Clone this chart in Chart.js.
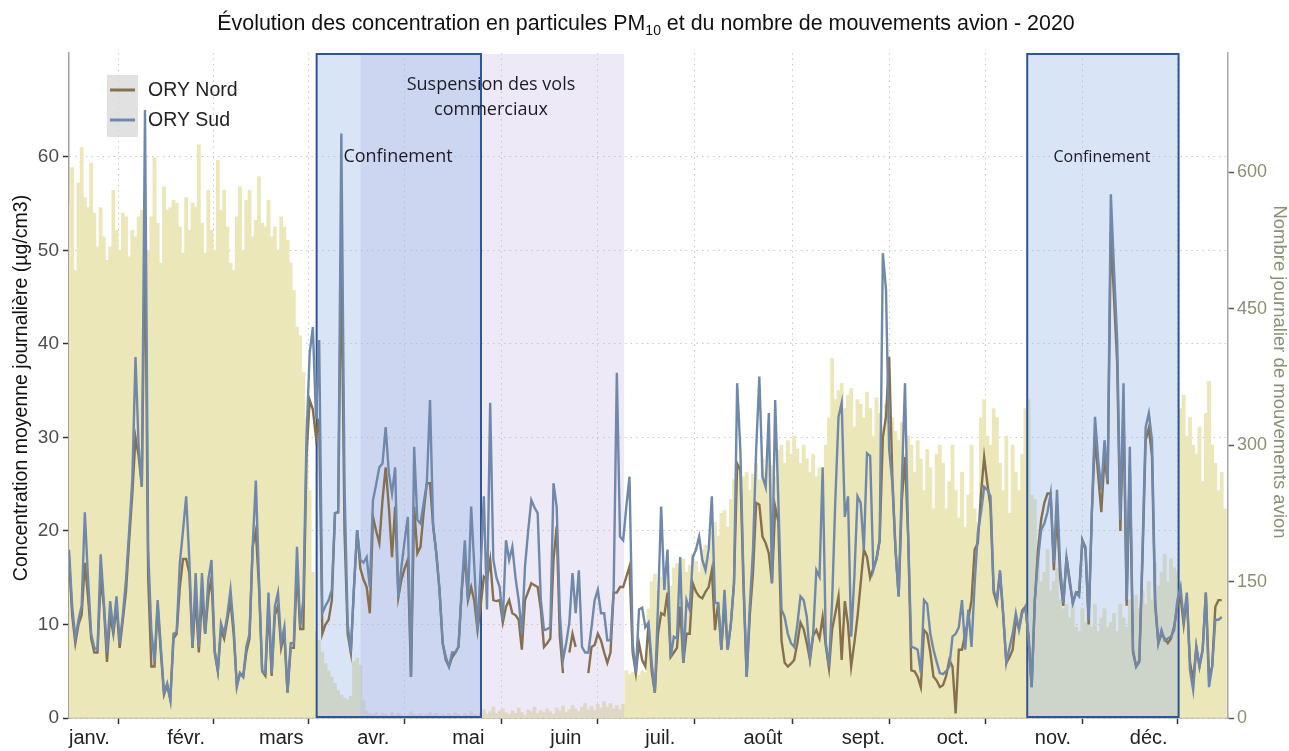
<!DOCTYPE html>
<html>
<head>
<meta charset="utf-8">
<script src="https://cdn.jsdelivr.net/npm/chart.js@4.4.0/dist/chart.umd.min.js"></script>
<style>
  html, body { margin: 0; padding: 0; background: #ffffff; }
</style>
</head>
<body>
<canvas id="pmChart" width="1289" height="751"></canvas>
<script>
// month ticks (day index of the 1st of each month, 2020)
const monthStarts = [0, 31, 60, 91, 121, 152, 182, 213, 244, 274, 305, 335];
const monthNames = ['janv.', 'févr.', 'mars', 'avr.', 'mai', 'juin', 'juil.', 'août', 'sept.', 'oct.', 'nov.', 'déc.'];

const leftTicks = [0, 10, 20, 30, 40, 50, 60];
const rightTicks = [0, 150, 300, 450, 600];

// periods, in day index
const confinements = [[78.2, 130.1], [302.6, 350.4]];
const suspension = [92.1, 175.3];

// daily PM10 (µg/cm3) - ORY Sud
const orySud = [
  18, 12, 8.5, 10.5, 12, 22, 15, 9, 7.5, 7.3,
  17.5, 12.5, 7, 12.5, 9.4, 13, 8, 11, 14.8, 20,
  25.5, 38.6, 29, 24.7, 65, 18, 9.4, 6, 12.6, 7.6,
  2.7, 3.7, 1.9, 9, 9.2, 16.6, 20, 23.7, 16.9, 7.6,
  15.5, 7.6, 15.5, 9, 14.8, 16.9, 7.3, 5.1, 10.1, 9,
  11, 13.7, 9.7, 3.3, 4.8, 4.4, 7.6, 9, 18.3, 25.4,
  14.8, 5, 4.8, 13.4, 4.8, 11.9, 13.4, 8, 9.7, 2.7,
  8, 8, 18.3, 9.7, 12.6, 30, 39, 41.8, 32, 40.4,
  11.2, 12, 12.6, 13.7, 21.9, 22, 62.5, 25, 10, 7,
  14, 20.1, 16.9, 16.6, 17.2, 14, 23.3, 25, 26.8, 27.2,
  31.1, 26.2, 24, 26.8, 12.9, 16.2, 19, 21.5, 4.4, 29,
  21.2, 20.8, 23, 25.1, 34, 20.5, 17.6, 13.7, 8, 6.5,
  5.5, 7, 7, 7.6, 13.7, 19, 12.6, 22.6, 16.2, 9.4,
  16, 23.7, 11.6, 33.7, 16.9, 15, 14, 10.5, 19, 16.9,
  18.3, 15, 12.6, 9, 16.2, 20, 23.3, 22.5, 21.9, 12.6,
  9.4, 9.5, 9.7, 25.1, 22.6, 11.2, 6.2, 8, 10.2, 15.5,
  11.2, 15.8, 7.6, 7, 7, 9.7, 12.6, 13.7, 11.2, 11.2,
  8.3, 8.3, 13.7, 36.9, 19.4, 19, 22.6, 25.8, 8, 4.8,
  11.6, 11.8, 9.7, 10.2, 6, 2.7, 12, 22.6, 13.7, 18,
  6.5, 8.7, 8.5, 17.2, 5.9, 12.6, 11.6, 17.2, 18, 19.4,
  16.9, 15.8, 18, 23.7, 12.3, 12.3, 7.3, 13.7, 7.3, 10,
  14.4, 35.8, 28.7, 15, 4.4, 12, 18, 28.7, 36.5, 25.8,
  24.7, 32.6, 14.4, 34, 23.3, 11.6, 10.8, 9, 8, 7.6,
  10, 13, 12.6, 10.8, 6.5, 9, 15.8, 15.1, 26.8, 8,
  5.5, 12.6, 23.3, 32.2, 33.7, 21.5, 23.7, 8.7, 15, 23.7,
  23, 18, 28.3, 28, 15.8, 17, 19, 49.7, 45.8, 28.7,
  25.1, 18, 13, 25.1, 35.8, 19.4, 7.6, 7.5, 7.3, 4.8,
  12.6, 12.2, 9, 7.3, 6, 4.8, 4.7, 5, 5.5, 8.7,
  9, 9.7, 12.6, 7.3, 11.6, 7.6, 14.4, 19.8, 22, 24.7,
  24.4, 23.7, 13.7, 12.6, 15.8, 11.2, 5.9, 7.5, 9, 11.2,
  9.4, 11.2, 11.9, 8.7, 3.3, 12.6, 17, 20.1, 20.8, 22,
  24, 16.6, 24.4, 16.2, 12.3, 17.2, 14.8, 12.3, 13.4, 13,
  19, 18.3, 10.5, 21.9, 32.2, 27.6, 24.4, 29.7, 25.4, 56,
  48, 40.4, 21.2, 35.8, 12.6, 29, 7.3, 5.5, 6.2, 18,
  31.1, 32.6, 29.7, 12.6, 8, 9.4, 8.3, 8.5, 8.7, 9.4,
  12.6, 14, 10.5, 13.4, 5.1, 3, 7.6, 5.5, 7.3, 13.4,
  3.3, 5.5, 10.5, 10.5, 10.8, null
];

// daily PM10 (µg/cm3) - ORY Nord
const oryNord = [
  17, 11, 8, 10, 11, 16.6, 13, 8.5, 7, 7,
  15, 12, 6, 11, 9, 12, 7.5, 10.5, 13.5, 19,
  24, 30, 28, 24.7, 53, 15, 5.5, 5.5, 12, 7,
  2.5, 3.5, 2, 8.5, 9, 14, 17, 17, 15.5, 7.5,
  13, 7, 13, 9, 13, 15, 7, 5, 9.5, 8.5,
  10.5, 12.5, 9, 3.5, 4.8, 4.4, 7, 8.5, 18.3, 20,
  14, 5, 4.5, 12, 4.5, 11, 12, 7.5, 9, 2.7,
  7.5, 7.5, 16, 9.5, 9.5, 28, 34, 33, 30, 32,
  9, 10, 10.5, 12.6, 21.9, 22, 50, 20, 9, 7,
  14, 20.1, 16, 14.8, 14, 11.2, 21.5, 20, 18.7, 23.3,
  26.8, 22.6, 17.2, 22.6, 12.9, 14.8, 16, 16.9, 4.4, 22.6,
  17.6, 18.3, 22, 25.1, 25.1, 20.5, 17.6, 13.7, 8, 6.2,
  5.5, 6.5, 7, 7.6, 13.5, 17.6, 12.6, 14, 12.5, 9.4,
  12, 15.1, 14.8, 16.9, 12.6, 12.5, 12.6, 10.2, 11.9, 12.6,
  11.2, 11, 10.5, 7.3, 12.6, 13.5, 14.4, 14.2, 14, 11.6,
  7.6, 8, 8.5, 16.9, 20.5, 8.7, 4.8, null, 7, 9,
  7.6, null, null, null, 4.8, 7.6, 7.8, 9, 8.3, 7,
  5.9, 7, 13.4, 13.4, 14, 14, 15.1, 16.2, 7, 4.8,
  8, 6.2, 5.5, 10, 5, 2.7, 9, 11.2, 11, 13.4,
  6.5, 7, 7.5, 11.9, 5.9, 9, 9, 14.4, 13.5, 13,
  12.8, 13.5, 14, 15.8, 9.4, 12.3, 7.3, 12.3, 7.3, 10,
  14.4, 27.2, 26.5, 14, 4.4, 11, 15.5, 23, 22.8, 19.4,
  18.7, 17.6, 14.4, 22.6, 21, 8.3, 5.9, 5.5, 5.8, 6.2,
  8, 10.2, 9.5, 8, 6.2, 8.8, 9.4, 8.5, 10.8, 7.7,
  5.3, 9.5, 11.2, 13, 6.2, 12.5, 10, 5.5, 8, 10.8,
  14.4, 18, 17.2, 15, 16, 17, 19, 30, 32.2, 38.6,
  25.8, 18, 13, 23.3, 27.9, 19.4, 5.1, 5, 4.4, 3.3,
  9.4, 9, 7, 4.4, 4, 3.3, 3.5, 4.5, 6.2, 5.5,
  0.5, 7.3, 7.3, 9, 10.5, 12.6, 18, 18.7, 24, 27.9,
  25.1, 22.6, 13.4, 12.3, 15.5, 11, 5.9, 6.5, 7.3, 10.5,
  9.6, 11.5, 11.9, 8.7, 3.3, 12.6, 18, 21.2, 23, 24,
  24, 15.8, 22, 15, 12, 17.2, 14.5, 12.3, 13.4, 13.5,
  19, 18, 10, 21.9, 30, 26, 22, 28, 25, 52,
  45, 38, 20, 33, 12, 27, 7, 5.5, 6, 17,
  29.7, 31, 28, 12, 8, 9, 8.5, 8, 8.5, 9.8,
  12, 13, 10, 13, 6, 4, 7.6, 5.5, 7.3, 13.4,
  4.5, 5.5, 11.9, 12.6, 12.6, null
];

// daily aircraft movements
const mouvements = [
  566, 605, 492, 588, 627, 572, 561, 610, 555, 518,
  561, 529, 503, 518, 580, 536, 514, 555, 551, 507,
  536, 529, 551, 558, 529, 514, 551, 616, 544, 500,
  584, 558, 561, 569, 566, 540, 511, 572, 536, 566,
  562, 630, 544, 511, 580, 536, 514, 613, 558, 580,
  540, 500, 492, 551, 584, 514, 569, 580, 529, 547,
  595, 544, 540, 569, 529, 540, 514, 551, 540, 525,
  500, 470, 430, 420, 380, 330, 250, 160, 95, 85,
  72, 60, 52, 45, 38, 30, 25, 22, 20, 24,
  62, 66, 58, 20, 8, 5, 4, 6, 3, 5,
  4, 2, 6, 3, 5, 4, 2, 3, 7, 4,
  3, 5, 2, 4, 6, 3, 5, 2, 4, 3,
  5, 3, 6, 4, 2, 5, 3, 7, 4, 3,
  6, 9, 4, 7, 12, 5, 8, 10, 6, 4,
  8, 5, 11, 6, 3, 9, 7, 12, 5, 8,
  6, 10, 7, 4, 11, 8, 13, 6, 9, 14,
  10, 7, 12, 16, 9, 13, 8, 15, 11, 18,
  12, 16, 10, 14, 9, 15, 52, 48, 50, 55,
  47, 52, 50, 120, 150, 158, 140, 155, 162, 150,
  145, 165, 170, 155, 175, 160, 168, 180, 172, 160,
  185, 190, 178, 205, 215, 200, 225, 228, 210, 240,
  262, 275, 258, 265, 270, 250, 268, 280, 262, 285,
  270, 290, 278, 265, 295, 300, 280, 305, 290, 310,
  296, 280, 300, 285, 270, 290, 265, 275, 260, 300,
  330, 395, 350, 360, 368, 340, 355, 362, 320, 350,
  345, 330, 358, 340, 310, 352, 335, 320, 345, 300,
  330, 315, 305, 325, 290, 310, 300, 270, 305, 285,
  250, 295, 275, 230, 290, 300, 280, 230, 260, 300,
  250, 220, 270, 210, 245, 300, 230, 215, 330, 350,
  310, 300, 340, 330, 280, 250, 310, 225, 300, 270,
  250, 290, 340, 350, 245, 240, 180, 150, 160, 185,
  140, 150, 165, 130, 120, 125, 110, 130, 100, 95,
  120, 105, 115, 100, 125, 95, 110, 120, 100, 105,
  115, 95, 125, 110, 100, 130, 115, 135, 120, 140,
  125, 150, 130, 170, 145, 160, 180, 150, 175, 165,
  160, 340, 355, 310, 330, 300, 290, 320, 260, 335,
  370, 300, 280, 250, 270, 230
];

const dayIndex = mouvements.map((v, i) => i);

const nordColor = '#86704f';
const sudColor = '#7089ab';
const sansFont = '"Liberation Sans", Arial, sans-serif';

// boxes go between the bars and the lines
const periodsPlugin = {
  id: 'periods',
  afterDatasetDraw(chart, args) {
    if (args.index !== 2) return;
    const {ctx, chartArea, scales: {x}} = chart;
    const top = chartArea.top + 1, bottom = chartArea.bottom - 1;
    ctx.save();
    ctx.fillStyle = 'rgba(195, 182, 228, 0.3)';
    ctx.fillRect(x.getPixelForValue(suspension[0]), top, x.getPixelForValue(suspension[1]) - x.getPixelForValue(suspension[0]), bottom - top);
    confinements.forEach(p => {
      const x0 = x.getPixelForValue(p[0]);
      const x1 = x.getPixelForValue(p[1]);
      ctx.fillStyle = 'rgba(150, 180, 230, 0.36)';
      ctx.fillRect(x0, top, x1 - x0, bottom - top);
      ctx.strokeStyle = '#2f5596';
      ctx.lineWidth = 2;
      ctx.strokeRect(x0, top, x1 - x0, bottom - top);
    });
    ctx.restore();
  },
  afterDraw(chart) {
    const {ctx} = chart;
    ctx.save();

    // title with subscript
    const t1 = 'Évolution des concentration en particules PM';
    const sub = '10';
    const t2 = ' et du nombre de mouvements avion - 2020';
    const bigFont = '21.4px ' + sansFont;
    const subFont = '14px ' + sansFont;
    ctx.fillStyle = '#111';
    ctx.textBaseline = 'alphabetic';
    ctx.font = bigFont;
    const w1 = ctx.measureText(t1).width;
    const w2 = ctx.measureText(t2).width;
    ctx.font = subFont;
    const ws = ctx.measureText(sub).width;
    const tx = 646 - (w1 + ws + w2) / 2;
    ctx.textAlign = 'left';
    ctx.font = bigFont;
    ctx.fillText(t1, tx, 30);
    ctx.font = subFont;
    ctx.fillText(sub, tx + w1, 35);
    ctx.font = bigFont;
    ctx.fillText(t2, tx + w1 + ws, 30);

    // axis titles
    ctx.textAlign = 'center';
    ctx.textBaseline = 'middle';
    ctx.save();
    ctx.font = '19.5px ' + sansFont;
    ctx.translate(22, 388);
    ctx.rotate(-Math.PI / 2);
    ctx.fillStyle = '#111';
    ctx.fillText('Concentration moyenne journalière (µg/cm3)', 0, 0);
    ctx.restore();
    ctx.save();
    ctx.font = '18.5px ' + sansFont;
    ctx.translate(1279, 372);
    ctx.rotate(Math.PI / 2);
    ctx.fillStyle = '#8e8e74';
    ctx.fillText('Nombre journalier de mouvements avion', 0, 0);
    ctx.restore();

    // period labels
    ctx.fillStyle = '#1c1c28';
    ctx.font = '18px "Open Sans", sans-serif';
    ctx.fillText('Suspension des vols', 491, 85);
    ctx.fillText('commerciaux', 491, 110);
    ctx.fillText('Confinement', 398, 157);
    ctx.font = '16px "Open Sans", sans-serif';
    ctx.fillText('Confinement', 1102, 157);

    // legend
    ctx.fillStyle = 'rgba(215, 215, 215, 0.75)';
    ctx.fillRect(107, 75, 31, 62);
    ctx.lineWidth = 3;
    ctx.strokeStyle = nordColor;
    ctx.beginPath(); ctx.moveTo(110, 90); ctx.lineTo(135, 90); ctx.stroke();
    ctx.strokeStyle = sudColor;
    ctx.beginPath(); ctx.moveTo(110, 120); ctx.lineTo(135, 120); ctx.stroke();
    ctx.fillStyle = '#222';
    ctx.font = '19.5px ' + sansFont;
    ctx.textAlign = 'left';
    ctx.fillText('ORY Nord', 148, 91);
    ctx.fillText('ORY Sud', 148, 121);

    ctx.restore();
  }
};

const ctx = document.getElementById('pmChart').getContext('2d');
const pmChart = new Chart(ctx, {
  type: 'bar',
  data: {
    labels: dayIndex,
    datasets: [
      {
        type: 'line',
        label: 'ORY Sud',
        data: orySud,
        yAxisID: 'y',
        borderColor: sudColor,
        borderWidth: 2.4,
        pointRadius: 0,
        tension: 0,
        spanGaps: false,
        order: 1
      },
      {
        type: 'line',
        label: 'ORY Nord',
        data: oryNord,
        yAxisID: 'y',
        borderColor: nordColor,
        borderWidth: 2.4,
        pointRadius: 0,
        tension: 0,
        spanGaps: false,
        order: 2
      },
      {
        type: 'bar',
        label: 'Mouvements avion',
        data: mouvements,
        yAxisID: 'y1',
        backgroundColor: '#ece7b9',
        borderWidth: 0,
        barPercentage: 1,
        categoryPercentage: 1,
        order: 3
      }
    ]
  },
  options: {
    responsive: false,
    animation: false,
    layout: { padding: { top: 53, left: 0, right: 0, bottom: 0 } },
    plugins: {
      legend: { display: false },
      tooltip: { enabled: false },
      title: { display: false }
    },
    scales: {
      x: {
        type: 'linear',
        min: 0,
        max: 366,
        offset: false,
        afterBuildTicks: (scale) => { scale.ticks = monthStarts.map(v => ({ value: v })); },
        afterFit: (scale) => { scale.height = 33; },
        ticks: {
          autoSkip: false,
          maxRotation: 0,
          align: 'start',
          padding: 2,
          color: '#222',
          font: { size: 20, family: sansFont },
          callback: (v) => monthNames[monthStarts.indexOf(v)]
        },
        grid: { color: '#c9c9c9', lineWidth: 1, tickColor: '#333', tickLength: 6, tickWidth: 1.5 },
        border: { display: true, color: '#a0a0a0', width: 1.5, dash: [1.5, 4] }
      },
      y: {
        position: 'left',
        min: 0,
        max: 71.1,
        afterBuildTicks: (scale) => { scale.ticks = leftTicks.map(v => ({ value: v })); },
        afterFit: (scale) => { scale.width = 69; },
        ticks: {
          padding: 4,
          color: '#4d4d4d',
          font: { size: 19, family: sansFont }
        },
        grid: { color: '#c9c9c9', lineWidth: 1, tickColor: '#333', tickLength: 6, tickWidth: 1.5 },
        border: { display: true, color: '#a0a0a0', width: 1.5, dash: [1.5, 4] }
      },
      y1: {
        position: 'right',
        min: 0,
        max: 731,
        afterBuildTicks: (scale) => { scale.ticks = rightTicks.map(v => ({ value: v })); },
        afterFit: (scale) => { scale.width = 61; },
        ticks: {
          padding: 3,
          color: '#8e8e74',
          font: { size: 18, family: sansFont }
        },
        grid: { drawOnChartArea: false, tickColor: '#555', tickLength: 6, tickWidth: 1.5 },
        border: { display: true, color: '#a8a8a8', width: 1.5 }
      }
    }
  },
  plugins: [periodsPlugin]
});
</script>
</body>
</html>
